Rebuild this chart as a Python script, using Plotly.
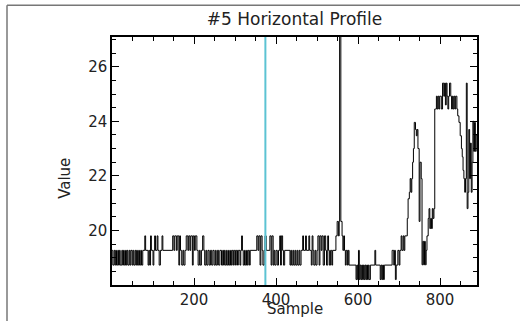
import plotly.graph_objects as go

# Step profile: each run starts at run_start (sample) and holds run_value
run_start = [
    0, 2, 5, 7, 9, 11, 14, 16, 18, 20, 24, 26, 28, 30, 33, 35, 37, 39, 42, 44,
    46, 49, 51, 53, 56, 58, 60, 62, 65, 67, 70, 72, 75, 80, 82, 88, 90, 92, 94, 96,
    100, 102, 104, 106, 110, 112, 115, 118, 122, 124, 148, 151, 153, 157, 159, 163, 165, 167, 170, 173,
    175, 178, 181, 185, 187, 190, 192, 196, 198, 201, 203, 207, 210, 213, 215, 218, 221, 224, 226, 229,
    231, 234, 237, 240, 243, 246, 249, 252, 254, 257, 260, 263, 267, 270, 272, 274, 276, 279, 281, 284,
    286, 289, 291, 293, 296, 298, 301, 303, 306, 308, 312, 314, 316, 318, 320, 323, 325, 328, 330, 332,
    335, 337, 353, 356, 358, 361, 363, 366, 368, 371, 373, 376, 385, 388, 390, 393, 395, 397, 400, 403,
    406, 409, 411, 413, 416, 418, 421, 434, 436, 438, 441, 443, 446, 448, 451, 453, 456, 458, 461, 465,
    467, 472, 474, 480, 482, 486, 488, 490, 492, 495, 497, 500, 502, 505, 507, 510, 512, 515, 518, 521,
    523, 526, 528, 530, 533, 536, 538, 546, 549, 552, 554, 555, 558, 561, 563, 565, 567, 569, 571, 574,
    576, 578, 595, 597, 599, 601, 603, 605, 607, 609, 611, 613, 615, 617, 619, 621, 623, 625, 627, 630,
    641, 643, 654, 656, 658, 660, 662, 664, 683, 687, 689, 691, 693, 697, 700, 702, 705, 707, 710, 712,
    714, 717, 720, 722, 725, 727, 729, 731, 733, 735, 737, 740, 742, 744, 746, 749, 751, 754, 756, 758,
    760, 762, 764, 766, 768, 771, 773, 775, 777, 779, 781, 783, 785, 787, 789, 791, 793, 795, 797, 799,
    803, 806, 809, 811, 813, 815, 817, 819, 821, 823, 826, 828, 830, 832, 834, 836, 838, 841, 843, 846,
    849, 852, 854, 856, 858, 860, 862, 864, 866, 868, 870, 872, 874, 876, 878, 880, 882, 884, 886, 888,
    890,
]
run_value = [
    19.27, 18.73, 19.27, 18.73, 19.27, 18.73, 19.27, 18.73, 19.27, 18.73, 19.27, 18.73, 19.27, 18.73, 19.27, 18.73, 19.27, 18.73, 19.27, 18.73,
    19.27, 18.73, 19.27, 18.73, 19.27, 18.73, 19.27, 18.73, 19.27, 18.73, 19.27, 18.73, 19.27, 19.8, 19.27, 18.73, 19.27, 18.73, 19.8, 19.27,
    18.73, 19.27, 19.8, 19.27, 19.8, 19.27, 18.73, 19.27, 19.8, 19.27, 19.8, 19.27, 19.8, 19.27, 19.8, 18.73, 19.8, 19.27, 18.73, 19.27,
    18.73, 19.27, 19.8, 19.27, 19.8, 19.27, 19.8, 18.73, 19.8, 19.27, 19.8, 19.27, 18.73, 19.27, 18.73, 19.27, 19.8, 19.27, 18.73, 19.27,
    18.73, 19.27, 18.73, 19.27, 18.73, 19.27, 18.73, 19.27, 18.73, 19.27, 18.73, 19.27, 18.73, 19.27, 18.73, 19.27, 18.73, 19.27, 18.73, 19.27,
    18.73, 19.27, 18.73, 19.27, 18.73, 19.27, 18.73, 19.27, 18.73, 19.27, 18.73, 19.27, 19.8, 19.27, 18.73, 19.27, 18.73, 19.27, 18.73, 19.27,
    18.73, 19.27, 19.8, 19.27, 19.8, 18.73, 19.8, 19.27, 18.73, 19.27, 19.8, 19.27, 19.8, 18.73, 19.8, 18.73, 19.27, 18.73, 19.27, 18.73,
    19.27, 19.8, 18.73, 19.8, 19.27, 18.73, 19.27, 18.73, 19.27, 18.73, 19.27, 18.73, 19.27, 18.73, 19.27, 18.73, 19.27, 18.73, 19.27, 19.8,
    19.27, 19.8, 19.27, 19.8, 19.27, 18.73, 19.8, 19.27, 18.73, 19.27, 18.73, 19.27, 19.8, 18.73, 19.8, 19.27, 19.8, 18.73, 19.8, 19.27,
    18.73, 19.8, 19.27, 18.73, 19.27, 18.73, 19.27, 19.8, 20.33, 19.8, 20.33, 27.5, 20.33, 19.8, 19.27, 19.8, 19.27, 18.73, 19.27, 18.73,
    19.27, 18.73, 18.2, 18.73, 18.2, 19.27, 18.2, 18.73, 18.2, 18.73, 18.2, 18.73, 18.2, 18.73, 18.2, 18.73, 18.2, 18.73, 18.2, 18.73,
    19.27, 18.73, 18.2, 18.73, 18.2, 18.73, 18.2, 18.73, 19.27, 18.73, 19.27, 18.2, 18.73, 19.27, 18.73, 19.27, 19.8, 19.27, 19.8, 19.27,
    19.8, 19.8, 20.44, 21.16, 21.4, 21.9, 21.4, 21.9, 22.5, 23.0, 23.96, 23.7, 23.47, 23.7, 23.0, 20.33, 22.5, 21.9, 18.74, 19.6,
    18.74, 19.6, 18.74, 19.27, 19.8, 20.44, 20.8, 20.07, 20.44, 20.07, 20.8, 20.44, 20.8, 24.45, 24.45, 24.92, 24.45, 24.92, 24.45, 24.92,
    24.45, 25.4, 24.92, 25.4, 24.6, 25.4, 24.92, 24.45, 24.92, 25.4, 24.92, 24.45, 24.92, 24.45, 24.92, 24.45, 24.92, 24.45, 24.2, 23.96,
    23.47, 23.0, 22.7, 22.2, 21.9, 21.4, 21.9, 25.4, 20.8, 21.4, 23.7, 21.9, 23.2, 21.4, 22.5, 24.0, 22.9, 23.96, 22.9, 23.5,
    23.5,
]

marker_sample = 374
x_range = [0, 890]
y_range = [18, 27.09]
x_ticks = [200, 400, 600, 800]
y_ticks = [20, 22, 24, 26]

FONT = "DejaVu Sans"

fig = go.Figure()
fig.add_trace(go.Scatter(
    x=run_start, y=run_value, mode="lines",
    line=dict(color="black", width=1.0, shape="hv"),
    showlegend=False, hoverinfo="skip",
))
fig.add_trace(go.Scatter(
    x=[marker_sample, marker_sample], y=y_range, mode="lines",
    line=dict(color="#5cc3d3", width=2),
    showlegend=False, hoverinfo="skip",
))

axis_common = dict(
    showgrid=False, zeroline=False, showline=True, linecolor="black", linewidth=1.5,
    mirror="ticks", ticks="inside", ticklen=7, tickwidth=1.2, tickcolor="black",
    tickfont=dict(family=FONT, size=15, color="#222"),
)
fig.update_xaxes(range=x_range, tickvals=x_ticks,
                 minor=dict(dtick=50, tick0=0, ticks="inside", ticklen=4, tickcolor="black", tickwidth=1),
                 **axis_common)
fig.update_yaxes(range=y_range, tickvals=y_ticks,
                 minor=dict(dtick=0.5, tick0=18, ticks="inside", ticklen=4, tickcolor="black", tickwidth=1),
                 **axis_common)

L, R, T, B = 112, 43, 37, 34
PW, PH = 520 - L - R, 321 - T - B

def px_x(px):
    return (px - L) / PW

def px_y(py):
    return (321 - B - py) / PH

fig.update_layout(
    width=520, height=321,
    margin=dict(l=L, r=R, t=T, b=B),
    paper_bgcolor="white", plot_bgcolor="white",
    title=dict(text="#5 Horizontal Profile", x=0.5, xref="paper", xanchor="center",
               y=1 - 19 / 321, yref="container", yanchor="middle",
               font=dict(family=FONT, size=17, color="#222")),
    annotations=[
        dict(text="Sample", x=0.5, y=px_y(311), xref="paper", yref="paper",
             showarrow=False, xanchor="center", yanchor="middle",
             font=dict(family=FONT, size=15, color="#222")),
        dict(text="Value", x=px_x(65), y=px_y(180), xref="paper", yref="paper",
             showarrow=False, xanchor="center", yanchor="middle", textangle=-90,
             font=dict(family=FONT, size=15, color="#222")),
    ],
    shapes=[
        dict(type="line", xref="paper", yref="paper", x0=px_x(7), x1=px_x(7),
             y0=px_y(5), y1=px_y(340), line=dict(color="#777", width=1.5)),
        dict(type="line", xref="paper", yref="paper", x0=px_x(7), x1=px_x(540),
             y0=px_y(5), y1=px_y(5), line=dict(color="#777", width=1.5)),
    ],
)

fig.write_html("out.html")
